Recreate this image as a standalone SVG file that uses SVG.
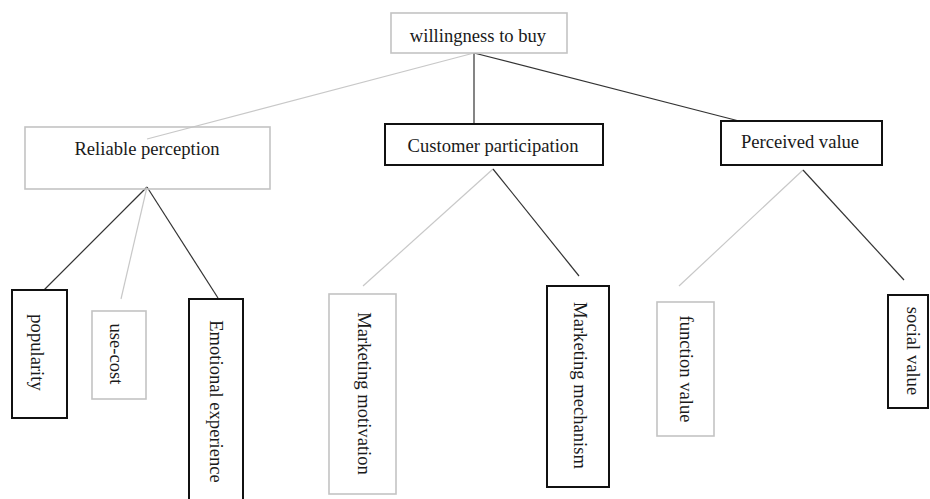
<svg xmlns="http://www.w3.org/2000/svg" width="930" height="499" viewBox="0 0 930 499">
<style>
text{font-family:"Liberation Serif","Times New Roman",serif;font-size:18.6px;fill:#1a1a1a;text-anchor:middle}
.g{fill:#fff;stroke:#c3c3c3;stroke-width:1.6}
.b{fill:#fff;stroke:#111;stroke-width:2}
.lg{stroke:#c8c8c8;stroke-width:1.2;fill:none}
.lb{stroke:#333;stroke-width:1.2;fill:none}
</style>
<rect width="930" height="499" fill="#fff"/>
<g id="connectors">
<line class="lg" x1="474" y1="53" x2="147" y2="139"/>
<line class="lb" x1="474" y1="53" x2="474" y2="124"/>
<line class="lb" x1="474" y1="53" x2="739" y2="121"/>
<line class="lb" x1="147" y1="187" x2="44" y2="290"/>
<line class="lg" x1="147" y1="187" x2="121" y2="299"/>
<line class="lb" x1="147" y1="187" x2="218" y2="298"/>
<line class="lg" x1="493" y1="169" x2="363" y2="286"/>
<line class="lb" x1="493" y1="169" x2="579" y2="276"/>
<line class="lg" x1="803" y1="170" x2="679" y2="286"/>
<line class="lb" x1="803" y1="170" x2="904" y2="280"/>
</g>
<g id="willingness">
<rect class="g" x="391" y="13" width="176" height="40"/>
<text x="478" y="42">willingness to buy</text>
</g>
<g id="reliable">
<rect class="g" x="25" y="127" width="245" height="62" fill-opacity="0"/>
<text x="147" y="155">Reliable perception</text>
</g>
<g id="customer">
<rect class="b" x="385" y="124" width="218" height="41"/>
<text x="493" y="152">Customer participation</text>
</g>
<g id="perceived">
<rect class="b" x="721" y="121" width="161" height="44"/>
<text x="800" y="148">Perceived value</text>
</g>
<g id="popularity">
<rect class="b" x="12" y="290" width="55" height="128"/>
<text transform="translate(31,352.5) rotate(90)">popularity</text>
</g>
<g id="usecost">
<rect class="g" x="92" y="311" width="54" height="88"/>
<text transform="translate(110,354) rotate(90)">use-cost</text>
</g>
<g id="emotional">
<rect class="b" x="189" y="299" width="54" height="210"/>
<text transform="translate(210,401.5) rotate(90)">Emotional experience</text>
</g>
<g id="motivation">
<rect class="g" x="329" y="294" width="67" height="200"/>
<text transform="translate(358,393.5) rotate(90)">Marketing motivation</text>
</g>
<g id="mechanism">
<rect class="b" x="547" y="286" width="62" height="201"/>
<text transform="translate(573.5,385.5) rotate(90)">Marketing mechanism</text>
</g>
<g id="function">
<rect class="g" x="657" y="302" width="57" height="134"/>
<text transform="translate(679.5,369) rotate(90)">function value</text>
</g>
<g id="social">
<rect class="b" x="888" y="295" width="40" height="113"/>
<text transform="translate(907,351) rotate(90)">social value</text>
</g>
</svg>
